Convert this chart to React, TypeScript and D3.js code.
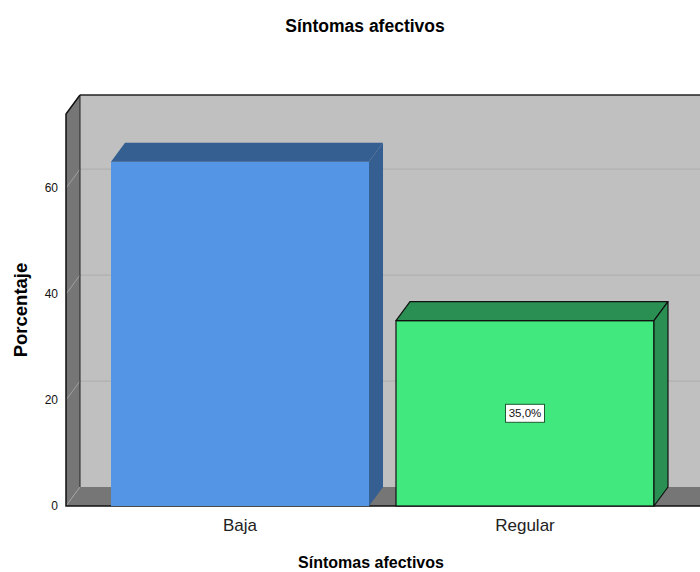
import React from 'react'
import * as d3 from 'd3'

const categories = ['Baja', 'Regular']
const percentages = [65, 35]
const showLabel = [false, true]
const yTicks = [0, 20, 40, 60]
const frontColors = ['#5595e5', '#40e87e']
const depthColors = ['#355e91', '#2a8f52']
const outlined = [false, true]

const W = 700
const H = 572
const FONT = '"Liberation Sans", Arial, sans-serif'

const App = () => {
    const dx = 14
    const dy = -19
    const left = 66
    const right = 700
    const base = 506

    const y = d3.scaleLinear().domain([0, 74]).range([base, 114])
    const x = d3.scaleBand()
        .domain(categories)
        .range([97.5, 667.5])
        .paddingInner(0.0947)
        .paddingOuter(0.0474)
    const bw = x.bandwidth()

    const pts = (p: number[][]) => p.map(d => d.join(',')).join(' ')

    return (
        <svg width={W} height={H} style={{ position: 'absolute', left: 0, top: 0, background: '#fff' }}>
            <text x={365} y={32} textAnchor="middle" fontFamily={FONT} fontWeight="bold" fontSize={17.5}>Síntomas afectivos</text>

            {/* back wall */}
            <rect x={left + dx} y={y(74) + dy} width={right - left - dx} height={base - y(74)} fill="#c0c0c0" />
            <line x1={left + dx} x2={right} y1={y(74) + dy} y2={y(74) + dy} stroke="#222" strokeWidth={1.5} />
            {yTicks.filter(t => t > 0).map(t => (
                <line key={'g' + t} x1={left + dx} x2={right} y1={y(t) + dy} y2={y(t) + dy} stroke="#b0b0b0" strokeWidth={1.2} />
            ))}

            {/* left wall */}
            <polygon points={pts([[left, y(74)], [left + dx, y(74) + dy], [left + dx, base + dy], [left, base]])} fill="#767676" />
            {yTicks.filter(t => t > 0).map(t => (
                <line key={'lw' + t} x1={left} y1={y(t)} x2={left + dx} y2={y(t) + dy} stroke="#a0a0a0" strokeWidth={1} />
            ))}
            {/* floor */}
            <polygon points={pts([[left, base], [left + dx, base + dy], [right, base + dy], [right, base]])} fill="#767676" />
            <line x1={left} y1={base} x2={left + dx} y2={base + dy} stroke="#a0a0a0" strokeWidth={1} />
            <line x1={left + dx} y1={y(74) + dy} x2={left + dx} y2={base + dy} stroke="#222" strokeWidth={1} />
            <polyline points={pts([[left + dx, y(74) + dy], [left, y(74)], [left, base], [right, base]])} fill="none" stroke="#111" strokeWidth={1.5} />

            {yTicks.map(t => (
                <text key={'t' + t} x={58} y={y(t) + 4} textAnchor="end" fontFamily={FONT} fontSize={12} fill="#111">{t}</text>
            ))}

            {categories.map((c, i) => {
                const x0 = x(c) as number
                const yv = y(percentages[i])
                const stroke = outlined[i] ? '#111' : 'none'
                return (
                    <g key={c}>
                        <rect x={x0} y={yv} width={bw} height={base - yv} fill={frontColors[i]} stroke={stroke} strokeWidth={1.2} />
                        <polygon points={pts([[x0, yv], [x0 + dx, yv + dy], [x0 + bw + dx, yv + dy], [x0 + bw, yv]])} fill={depthColors[i]} stroke={stroke} strokeWidth={1.2} strokeLinejoin="round" />
                        <polygon points={pts([[x0 + bw, yv], [x0 + bw + dx, yv + dy], [x0 + bw + dx, base + dy], [x0 + bw, base]])} fill={depthColors[i]} stroke={stroke} strokeWidth={1.2} strokeLinejoin="round" />
                        {showLabel[i] && (
                            <g>
                                <rect x={x0 + bw / 2 - 19.5} y={(yv + base) / 2 - 9} width={39} height={18} fill="#fff" stroke="#1e5a34" strokeWidth={1} />
                                <text x={x0 + bw / 2} y={(yv + base) / 2 + 4} textAnchor="middle" fontFamily={FONT} fontSize={11.5} fill="#111">
                                    {percentages[i].toFixed(1).replace('.', ',') + '%'}
                                </text>
                            </g>
                        )}
                        <text x={x0 + bw / 2} y={531} textAnchor="middle" fontFamily={FONT} fontSize={17} fill="#222">{c}</text>
                    </g>
                )
            })}

            <text x={371} y={568} textAnchor="middle" fontFamily={FONT} fontWeight="bold" fontSize={16}>Síntomas afectivos</text>
            <text transform="translate(27,310) rotate(-90)" textAnchor="middle" fontFamily={FONT} fontWeight="bold" fontSize={18.5}>Porcentaje</text>
        </svg>
    )
}

export default App
